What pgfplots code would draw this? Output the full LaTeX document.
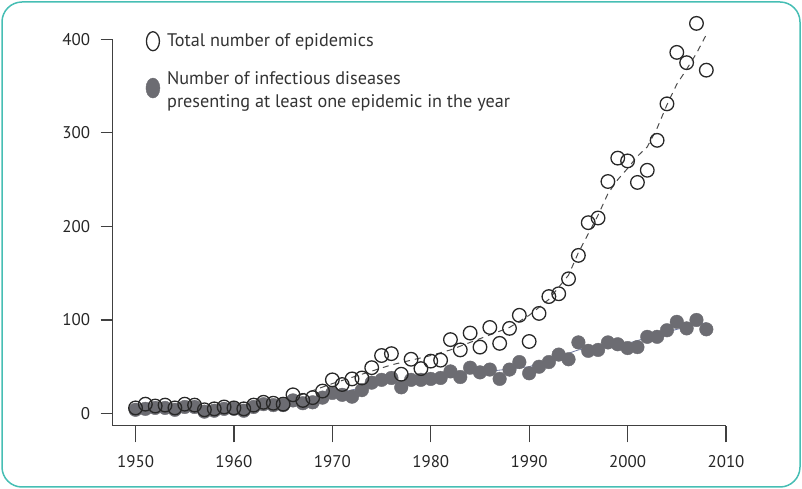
\documentclass[border=0pt]{standalone}
\usepackage{pgfplots}
\pgfplotsset{compat=1.18}
\usepackage{fontspec}
\setmainfont{PT Sans}
\definecolor{teal}{RGB}{70,190,180}
\definecolor{fillgray}{RGB}{108,108,114}
\definecolor{edgegray}{RGB}{40,40,40}
\definecolor{trendblue}{RGB}{110,120,160}
\begin{document}
\begin{tikzpicture}
\path[use as bounding box] (0,0) rectangle (802bp,489bp);
\draw[teal, line width=1.5bp, rounded corners=20bp] (2bp,2bp) rectangle (800bp,487bp);
\begin{axis}[
  at={(112.5bp,63.5bp)}, anchor=south west,
  scale only axis, width=613.5bp, height=386.2bp,
  xmin=1947.66, xmax=2010, ymin=-12.8, ymax=400,
  axis x line=bottom, axis y line=left,
  axis line style={-, line width=1.2bp, color=black!75},
  x axis line style={-}, y axis line style={-},
  xtick={1950,1960,...,2010}, ytick={0,100,...,400},
  tick align=outside, tick style={line width=1.2bp, color=black!75},
  major tick length=17bp,
  y tick style={xscale=0.7},
  xticklabel style={yshift=-9bp},
  yticklabel style={xshift=-2bp},
  /pgf/number format/assume math mode=true,
  /pgf/number format/1000 sep={},
  ticklabel style={font=\fontsize{17}{20}\selectfont, color=black!85},
  clip=false,
  legend cell align=left,
  legend style={draw=none, fill=none, at={(0.049,1.027)}, anchor=north west,
    font=\fontsize{18.3}{23}\selectfont, text=black!80,
    nodes={align=left, inner sep=2bp}, row sep=18bp},
]
% trend lines
\addplot[forget plot, trendblue, line width=0.8bp] coordinates {
(1950,5) (1955,5) (1960,5) (1965,10) (1970,20) (1975,33) (1980,38) (1985,44)
(1990,50) (1995,68) (2000,75) (2005,90) (2008,97)};
\addplot[forget plot, black!70, line width=1bp, dash pattern=on 6bp off 5bp] coordinates {
(1950,6) (1955,6) (1960,7) (1966,17) (1970,32) (1973,42) (1976,52) (1980,62)
(1982,68) (1985,80) (1988,92) (1990,105) (1992,122) (1994,148) (1995,172)
(1996,192) (1997,212) (1998,235) (1999,250) (2000,262) (2001,275) (2002,285)
(2003,305) (2004,330) (2005,352) (2006,368) (2007,385) (2008,405)};
% filled: number of infectious diseases
\addplot[forget plot, only marks, mark=*, mark size=6.8bp, mark options={fill=fillgray, draw=fillgray}]
coordinates {
(1950,4) (1951,5) (1952,6) (1953,6) (1954,4) (1955,7) (1956,7) (1957,2) (1958,3) (1959,5)
(1960,5) (1961,3) (1962,7) (1963,10) (1964,9) (1965,9) (1966,14) (1967,11) (1968,12) (1969,17)
(1970,22) (1971,20) (1972,18) (1973,25) (1974,33) (1975,36) (1976,38) (1977,28) (1978,36) (1979,36)
(1980,37) (1981,38) (1982,45) (1983,39) (1984,49) (1985,44) (1986,47) (1987,37) (1988,47) (1989,55)
(1990,43) (1991,50) (1992,55) (1993,63) (1994,58) (1995,76) (1996,67) (1997,68) (1998,76) (1999,74)
(2000,70) (2001,71) (2002,82) (2003,82) (2004,89) (2005,98) (2006,91) (2007,100) (2008,90)};
% open: total number of epidemics
\addplot[forget plot, only marks, mark=o, mark size=6.8bp, mark options={draw=edgegray, line width=1.3bp}]
coordinates {
(1950,6) (1951,10) (1952,8) (1953,9) (1954,6) (1955,10) (1956,9) (1957,4) (1958,5) (1959,7)
(1960,6) (1961,5) (1962,9) (1963,12) (1964,11) (1965,10) (1966,20) (1967,14) (1968,17) (1969,24)
(1970,36) (1971,31) (1972,37) (1973,38) (1974,49) (1975,62) (1976,64) (1977,42) (1978,58) (1979,48)
(1980,56) (1981,57) (1982,79) (1983,68) (1984,86) (1985,71) (1986,92) (1987,75) (1988,91) (1989,105)
(1990,77) (1991,107) (1992,125) (1993,128) (1994,144) (1995,169) (1996,204) (1997,209) (1998,248) (1999,273)
(2000,270) (2001,247) (2002,260) (2003,292) (2004,331) (2005,386) (2006,375) (2007,417) (2008,367)};
\addlegendimage{legend image code/.code={\draw[edgegray, line width=1.3bp] (0,0) ellipse (6.5bp and 9.5bp); \path (12bp,0);}}
\addlegendentry{Total number of epidemics}
\addlegendimage{legend image code/.code={\fill[fillgray] (0,2bp) ellipse (7bp and 10bp); \path (12bp,0);}}
\addlegendentry{Number of infectious diseases\\presenting at least one epidemic in the year}
\end{axis}
\end{tikzpicture}
\end{document}
